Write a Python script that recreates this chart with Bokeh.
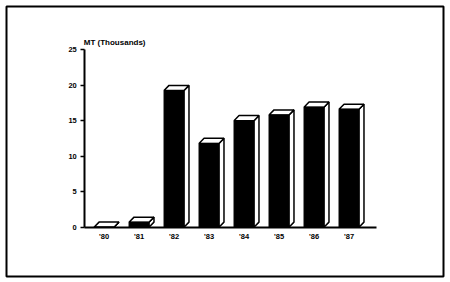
from bokeh.plotting import figure
from bokeh.models import Range1d, FixedTicker, Label
from bokeh.embed import file_html
from bokeh.resources import INLINE

# Data
years = ["'80", "'81", "'82", "'83", "'84", "'85", "'86", "'87"]
values = [0.0, 0.7, 19.25, 11.8, 15.0, 15.8, 16.9, 16.6]
y_ticks = [0, 5, 10, 15, 20, 25]
y_title = "MT (Thousands)"

xs = list(range(len(years)))

FONT = "Liberation Sans"
W, H = 450, 282

p = figure(width=W, height=H, output_backend="svg", toolbar_location=None,
           x_axis_location="below", y_axis_location="left",
           min_border_left=6, min_border_right=7, min_border_top=6, min_border_bottom=6)
p.x_range = Range1d(-2.786, 9.70)
p.y_range = Range1d(-6.94, 31.08)
p.xgrid.visible = False
p.ygrid.visible = False
p.background_fill_color = "white"
p.border_fill_color = "white"
p.outline_line_color = "black"
p.outline_line_width = 2

# 3D bar geometry (data units)
bw = 0.57
dx = 0.143
dy = 0.72

side_x, side_y, top_x, top_y = [], [], [], []
for x, v in zip(xs, values):
    l, r = x - bw / 2, x + bw / 2
    side_x.append([r, r + dx, r + dx, r])
    side_y.append([0, dy, v + dy, v])
    top_x.append([l, l + dx, r + dx, r])
    top_y.append([v, v + dy, v + dy, v])

p.patches(side_x, side_y, fill_color="white", line_color="black", line_width=1.5)
p.patches(top_x, top_y, fill_color="white", line_color="black", line_width=1.5)
p.vbar(x=xs, top=values, bottom=0, width=bw, fill_color="black", line_color="black", line_width=1)

# axes
xa = p.xaxis[0]
xa.fixed_location = 0
xa.bounds = (-0.55, 7.79)
xa.ticker = FixedTicker(ticks=xs)
xa.major_label_overrides = {i: t for i, t in enumerate(years)}
xa.major_tick_out = 0
xa.major_tick_in = 0
xa.minor_tick_out = 0
xa.minor_tick_in = 0
xa.axis_line_width = 2
xa.major_label_standoff = 5
xa.major_label_text_font = FONT
xa.major_label_text_font_style = "bold"
xa.major_label_text_font_size = "7.5px"
xa.major_label_text_color = "black"

ya = p.yaxis[0]
ya.fixed_location = -0.55
ya.bounds = (0, 25)
ya.ticker = FixedTicker(ticks=y_ticks)
ya.major_tick_out = 4
ya.major_tick_in = 0
ya.major_tick_line_width = 1.5
ya.minor_tick_out = 0
ya.minor_tick_in = 0
ya.axis_line_width = 2
ya.major_label_standoff = 4
ya.major_label_text_font = FONT
ya.major_label_text_font_style = "bold"
ya.major_label_text_font_size = "7.5px"
ya.major_label_text_color = "black"

p.add_layout(Label(x=-0.55, y=25, text=y_title, x_offset=-1, y_offset=7,
                   text_align="left", text_baseline="middle",
                   text_font=FONT, text_font_style="bold", text_font_size="8px",
                   text_color="black"))

open("out.html", "w").write(file_html(p, INLINE))
